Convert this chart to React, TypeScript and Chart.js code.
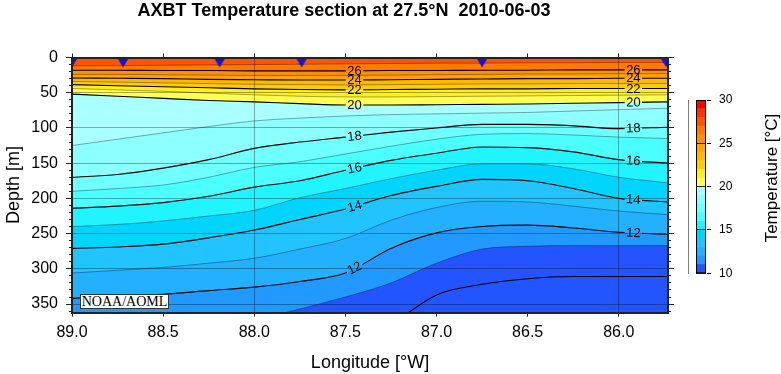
import React, { useEffect, useRef } from 'react';
import { Chart, registerables } from 'chart.js';

Chart.register(...registerables);

// ---------------- data ----------------
const TITLE = 'AXBT Temperature section at 27.5°N  2010-06-03';

// longitudes (°W) at which isotherm depths were read
const lonNodes = [89.0, 88.75, 88.5, 88.25, 88.0, 87.75, 87.5, 87.25, 87.0, 86.75, 86.5, 86.25, 86.0, 85.73];

// isotherm depths (m) at lonNodes
const iso27 = [12, 11.5, 11, 10.5, 10, 9.5, 9, 8.5, 8, 8, 7.5, 7.5, 7, 7];
const iso26 = [18, 18, 18.5, 18.5, 19, 19, 19, 18.5, 18.5, 18, 18, 17.5, 17.5, 17.5];
const iso25 = [24, 24, 24.5, 25, 25.5, 25.5, 25.5, 25, 24.5, 24, 23.5, 23.5, 23, 23];
const iso24 = [29, 29.5, 30, 31, 31.5, 32, 32, 31.5, 31, 30.5, 30, 30, 29.5, 29.5];
const iso23 = [34, 35, 36, 37, 38, 38.5, 39, 38.5, 38, 37.5, 37.5, 37, 37, 37];
const iso22 = [38.5, 40, 41.5, 43, 44.5, 45.5, 46, 45.5, 45, 44.5, 44.5, 44, 44, 44];
const iso21 = [44, 46, 48, 50.5, 53, 55, 56, 56, 55.5, 55, 54.5, 54, 53.5, 53];
const iso20 = [52, 55, 58, 61, 63, 65.5, 67.5, 67.5, 67, 66.5, 66, 65, 64, 63];
const iso19 = [125, 116, 107, 98, 90, 86, 83, 81, 80, 79, 78, 76, 74, 72];
const iso18 = [170, 166, 157, 145, 129, 120, 113, 106, 100, 95, 95, 97, 101, 99];
const iso17 = [190, 186, 181, 170, 156, 148, 137, 126, 116, 109, 108, 110, 113, 115];
const iso16 = [214, 211, 206, 197, 184, 175, 160, 146, 136, 127, 128, 134, 145, 150];
const iso15 = [240, 237, 232, 225, 217, 199, 186, 172, 160, 151, 151, 158, 170, 178];
const iso14 = [271, 269, 265, 256, 245, 230, 215, 196, 183, 173, 175, 186, 200, 205];
const iso13 = [306, 302, 298, 292, 285, 272, 257, 231, 213, 204, 205, 211, 218, 223];
const iso12 = [342, 339, 336, 331, 326, 318, 306, 271, 249, 240, 238, 242, 248, 251];
const iso11 = [null, null, null, null, 373, 357, 340, 320, 292, 272, 268, 267, 267, 267];
const iso10 = [null, null, null, null, null, null, null, 380, 337, 322, 314, 311, 311, 311];

// AXBT drop positions (°W)
const stationLons = [89.0, 88.72, 88.19, 87.74, 86.75, 85.74];

// contour labels
const labelTemps = [12, 14, 16, 18, 20, 22, 24, 26];
const labelLons = [87.45, 85.92];

// colour scale
const colorbarMin = 10;
const colorbarMax = 30;
const colorbarTicks = [10, 15, 20, 25, 30];
const bandColors = [
  '#2255ff', '#2299ff', '#22b0ff', '#22c4ff', '#00d4ff',
  '#22f4ff', '#4cffff', '#70ffff', '#8cffff', '#aaffff',
  '#ffff55', '#ffee22', '#ffcc00', '#ffb800', '#ffa400',
  '#ff9000', '#ff7a00', '#ff5500', '#ff3300', '#ff0000',
];

// axis ranges
const LON_WEST = 89.0;
const LON_EAST = 85.73;
const DEPTH_MAX = 362;

// ---------------- helpers ----------------
const FONT = "'Liberation Sans', Arial, Helvetica, sans-serif";
const GRID = 'rgba(0,0,0,0.33)';
const FRAME = '#222';

const isoList: [number, (number | null)[]][] = [
  [10, iso10], [11, iso11], [12, iso12], [13, iso13], [14, iso14], [15, iso15],
  [16, iso16], [17, iso17], [18, iso18], [19, iso19], [20, iso20], [21, iso21],
  [22, iso22], [23, iso23], [24, iso24], [25, iso25], [26, iso26], [27, iso27],
];
const isoByTemp: Record<number, (number | null)[]> = {};
isoList.forEach(([t, d]) => { isoByTemp[t] = d; });

function depthAt(d: (number | null)[], lon: number): number | null {
  for (let i = 0; i < lonNodes.length - 1; i++) {
    const a = lonNodes[i], b = lonNodes[i + 1];
    if (lon <= a && lon >= b) {
      const da = d[i], db = d[i + 1];
      if (da == null || db == null) return null;
      const t = (a - lon) / (a - b);
      return da + t * (db - da);
    }
  }
  return null;
}

type Box = { x: number; y: number; ang: number; w: number; h: number; text: string };
const LABEL_FONT = `13px ${FONT}`;

function computeLabels(chart: any): Record<number, Box[]> {
  const xs = chart.scales.x, ys = chart.scales.y;
  const ctx = chart.ctx;
  ctx.save();
  ctx.font = LABEL_FONT;
  const out: Record<number, Box[]> = {};
  for (const t of labelTemps) {
    const d = isoByTemp[t];
    const boxes: Box[] = [];
    for (const lon of labelLons) {
      const dep = depthAt(d, lon);
      if (dep == null) continue;
      const d1 = depthAt(d, lon + 0.06), d2 = depthAt(d, lon - 0.06);
      const x = xs.getPixelForValue(lon), y = ys.getPixelForValue(dep);
      let ang = 0;
      if (d1 != null && d2 != null) {
        ang = Math.atan2(
          ys.getPixelForValue(d2) - ys.getPixelForValue(d1),
          xs.getPixelForValue(lon - 0.06) - xs.getPixelForValue(lon + 0.06),
        );
      }
      const w = ctx.measureText(String(t)).width + 3;
      boxes.push({ x, y, ang, w, h: 10, text: String(t) });
    }
    out[t] = boxes;
  }
  ctx.restore();
  return out;
}

function makeTriangle(): HTMLCanvasElement {
  const c = document.createElement('canvas');
  c.width = 12;
  c.height = 20;
  const g = c.getContext('2d')!;
  g.beginPath();
  g.moveTo(0.5, 10);
  g.lineTo(11.5, 10);
  g.lineTo(6, 19.2);
  g.closePath();
  g.fillStyle = '#1010ff';
  g.fill();
  g.strokeStyle = '#0000b0';
  g.lineWidth = 0.6;
  g.stroke();
  return c;
}

export default function App() {
  const mainRef = useRef<HTMLCanvasElement>(null);
  const barRef = useRef<HTMLCanvasElement>(null);

  useEffect(() => {
    let labels: Record<number, Box[]> = {};
    const clipped = new Set<number>();

    const contourPlugin = {
      id: 'contourLabels',
      beforeDraw(chart: any) {
        const a = chart.chartArea;
        const ctx = chart.ctx;
        ctx.save();
        ctx.fillStyle = bandColors[27 - colorbarMin];
        ctx.fillRect(a.left, a.top, a.right - a.left, a.bottom - a.top);
        ctx.restore();
      },
      afterLayout(chart: any) {
        labels = computeLabels(chart);
      },
      beforeDatasetDraw(chart: any, args: any) {
        const t = chart.data.datasets[args.index].isoTemp;
        const boxes = t != null ? labels[t] : null;
        if (!boxes || !boxes.length) return;
        const ctx = chart.ctx;
        const a = chart.chartArea;
        ctx.save();
        ctx.beginPath();
        ctx.rect(a.left - 10, a.top - 10, a.right - a.left + 20, a.bottom - a.top + 20);
        for (const b of boxes) {
          const c = Math.cos(b.ang), s = Math.sin(b.ang);
          const pts = [[-b.w / 2, -b.h / 2], [b.w / 2, -b.h / 2], [b.w / 2, b.h / 2], [-b.w / 2, b.h / 2]]
            .map(([px, py]) => [b.x + px * c - py * s, b.y + px * s + py * c]);
          ctx.moveTo(pts[0][0], pts[0][1]);
          for (let i = 1; i < pts.length; i++) ctx.lineTo(pts[i][0], pts[i][1]);
          ctx.closePath();
        }
        ctx.clip('evenodd');
        clipped.add(args.index);
      },
      afterDatasetDraw(chart: any, args: any) {
        if (clipped.has(args.index)) {
          chart.ctx.restore();
          clipped.delete(args.index);
        }
      },
      afterDraw(chart: any) {
        const ctx = chart.ctx;
        ctx.save();
        ctx.font = LABEL_FONT;
        ctx.fillStyle = '#000';
        ctx.textAlign = 'center';
        ctx.textBaseline = 'middle';
        for (const t of labelTemps) {
          for (const b of labels[t] || []) {
            ctx.save();
            ctx.translate(b.x, b.y);
            ctx.rotate(b.ang);
            ctx.fillText(b.text, 0, 0.5);
            ctx.restore();
          }
        }
        ctx.restore();
      },
    };

    const isoDatasets = isoList.map(([t, d]) => ({
      type: 'line',
      label: `${t} °C`,
      isoTemp: t,
      data: lonNodes.map((x, i) => ({ x, y: d[i] })),
      borderColor: t % 2 === 0 ? '#000' : 'rgba(0,0,0,0.38)',
      borderWidth: t % 2 === 0 ? 1.1 : 0.9,
      backgroundColor: bandColors[Math.max(t - 1 - colorbarMin, 0)],
      fill: { value: DEPTH_MAX },
      pointRadius: 0,
      cubicInterpolationMode: 'monotone',
      spanGaps: false,
      order: 1,
    }));

    const stationDataset = {
      type: 'scatter',
      label: 'AXBT',
      data: stationLons.map((x) => ({ x, y: 0 })),
      pointStyle: makeTriangle(),
      pointRadius: 6,
      clip: 0,
      order: 0,
    };

    const tickFont = { family: FONT, size: 16 };
    const titleFont = { family: FONT, size: 18 };

    const main = new Chart(mainRef.current!, {
      type: 'line',
      data: { datasets: [...isoDatasets, stationDataset] as any },
      options: {
        animation: false,
        responsive: false,
        events: [],
        layout: { padding: 0 },
        plugins: {
          legend: { display: false },
          tooltip: { enabled: false },
          title: {
            display: true,
            text: TITLE,
            color: '#000',
            font: { family: FONT, size: 18, weight: 'bold' },
            padding: { top: 0, bottom: 6 },
          },
        },
        scales: {
          x: {
            type: 'linear', position: 'bottom', min: LON_EAST, max: LON_WEST, reverse: true,
            ticks: {
              stepSize: 0.5, includeBounds: false, autoSkip: false, maxRotation: 0, minRotation: 0,
              padding: 6, font: tickFont, color: '#000',
              callback: (v: any) => Number(v).toFixed(1),
            },
            grid: {
              color: (c: any) => (c.tick && Math.abs(c.tick.value % 2) < 1e-6 ? GRID : 'rgba(0,0,0,0)'),
              tickColor: FRAME, tickLength: 4, lineWidth: 1, z: 1,
            },
            border: { color: FRAME, width: 2, z: 1 },
            title: { display: true, text: 'Longitude [°W]', color: '#000', font: titleFont, padding: { top: 0, bottom: 0 } },
            afterFit: (s: any) => { s.height = 61.5; },
          },
          x2: {
            type: 'linear', position: 'top', min: LON_EAST, max: LON_WEST, reverse: true,
            ticks: { stepSize: 0.5, includeBounds: false, display: false },
            grid: { drawOnChartArea: false, tickColor: FRAME, tickLength: 4, z: 1 },
            border: { color: FRAME, width: 2, z: 1 },
            afterFit: (s: any) => { s.height = 29.9; },
          },
          y: {
            type: 'linear', position: 'left', weight: 2, min: 0, max: DEPTH_MAX, reverse: true,
            ticks: { stepSize: 50, includeBounds: false, padding: 8, font: tickFont, color: '#000' },
            grid: {
              color: (c: any) => (c.tick && c.tick.value > 0 ? GRID : 'rgba(0,0,0,0)'),
              tickColor: FRAME, tickLength: 6, lineWidth: 1, z: 1,
            },
            border: { color: FRAME, width: 2, z: 1 },
            title: { display: true, text: 'Depth [m]', color: '#000', font: titleFont, padding: { top: 3, bottom: 0 } },
            afterFit: (s: any) => { s.width = 72; },
          },
          yMinor: {
            type: 'linear', position: 'left', weight: 1, min: 0, max: DEPTH_MAX, reverse: true,
            ticks: { stepSize: 10, includeBounds: false, display: false },
            grid: { drawOnChartArea: false, tickColor: FRAME, tickLength: 3, z: 1 },
            border: { display: false },
            afterFit: (s: any) => { s.width = 0; },
          },
          y2: {
            type: 'linear', position: 'right', weight: 1, min: 0, max: DEPTH_MAX, reverse: true,
            ticks: { stepSize: 50, includeBounds: false, display: false },
            grid: { drawOnChartArea: false, tickColor: FRAME, tickLength: 6, z: 1 },
            border: { color: FRAME, width: 2, z: 1 },
            afterFit: (s: any) => { s.width = 20; },
          },
          y2Minor: {
            type: 'linear', position: 'right', weight: 0, min: 0, max: DEPTH_MAX, reverse: true,
            ticks: { stepSize: 10, includeBounds: false, display: false },
            grid: { drawOnChartArea: false, tickColor: FRAME, tickLength: 3, z: 1 },
            border: { display: false },
            afterFit: (s: any) => { s.width = 0; },
          },
        },
      } as any,
      plugins: [contourPlugin],
    });

    const framePlugin = {
      id: 'cbFrame',
      afterDraw(chart: any) {
        const a = chart.chartArea;
        const ctx = chart.ctx;
        ctx.save();
        ctx.strokeStyle = '#000';
        ctx.lineWidth = 1;
        ctx.strokeRect(a.left + 0.5, a.top + 0.5, a.right - a.left - 1, a.bottom - a.top - 1);
        ctx.restore();
      },
    };

    const bar = new Chart(barRef.current!, {
      type: 'bar',
      data: {
        labels: [''],
        datasets: bandColors.map((c, i) => ({
          label: `${colorbarMin + i}-${colorbarMin + i + 1}`,
          data: [[colorbarMin + i, colorbarMin + i + 1]],
          backgroundColor: c,
          borderWidth: 0,
          barPercentage: 1,
          categoryPercentage: 1,
          grouped: false,
        })) as any,
      },
      options: {
        animation: false,
        responsive: false,
        events: [],
        layout: { padding: { left: 8, top: 100, bottom: 100.7, right: 0 } },
        plugins: { legend: { display: false }, tooltip: { enabled: false } },
        scales: {
          x: { display: false },
          y: {
            position: 'right', min: colorbarMin, max: colorbarMax,
            afterBuildTicks: (s: any) => { s.ticks = colorbarTicks.map((v) => ({ value: v })); },
            ticks: { padding: 8, font: { family: FONT, size: 12 }, color: '#000' },
            grid: { color: '#222', lineWidth: 1, tickLength: 5, tickColor: '#000', z: 1 },
            border: { display: true, color: '#000', width: 1 },
            afterFit: (s: any) => { s.width = 75; },
          },
        },
      } as any,
      plugins: [framePlugin],
    });

    return () => {
      main.destroy();
      bar.destroy();
    };
  }, []);

  return (
    <div style={{ position: 'fixed', left: 0, top: 0, width: 781, height: 374, background: '#fff', overflow: 'hidden' }}>
      <canvas ref={mainRef} width={688} height={374} style={{ position: 'absolute', left: 0, top: 0, width: 688, height: 374 }} />
      <canvas ref={barRef} width={93} height={374} style={{ position: 'absolute', left: 688, top: 0, width: 93, height: 374 }} />
      <div
        style={{
          position: 'absolute', left: 80, top: 294, width: 89, height: 15, boxSizing: 'border-box',
          border: '1px solid #333', background: '#fff', color: '#000',
          font: "14px 'Liberation Serif', 'Times New Roman', serif", lineHeight: '13px', textAlign: 'center',
          whiteSpace: 'nowrap',
        }}
      >
        NOAA/AOML
      </div>
      <div
        style={{
          position: 'absolute', left: 691.5, top: 168, width: 160, height: 20, lineHeight: '20px',
          textAlign: 'center', font: `17px ${FONT}`, color: '#000', transform: 'rotate(-90deg)',
          whiteSpace: 'nowrap',
        }}
      >
        Temperature [°C]
      </div>
    </div>
  );
}
